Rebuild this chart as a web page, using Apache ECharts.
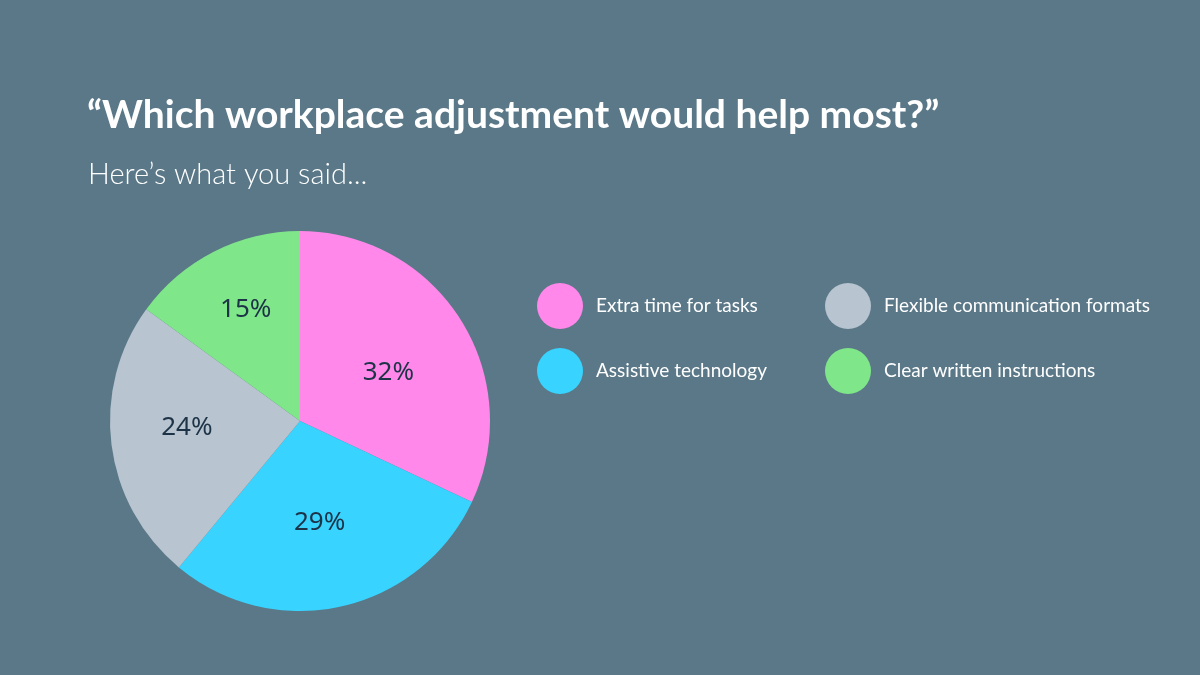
<!DOCTYPE html>
<html>
<head>
<meta charset="utf-8">
<style>
  html, body { margin: 0; padding: 0; background: #5a7888; }
  #main { width: 1200px; height: 675px; }
</style>
<script src="https://cdn.jsdelivr.net/npm/echarts@6/dist/echarts.min.js"></script>
</head>
<body>
<div id="main"></div>
<script>
// survey answers, share of respondents (%)
var categories = ['Extra time for tasks', 'Assistive technology', 'Flexible communication formats', 'Clear written instructions'];
var shares = [32, 29, 24, 15];
var colors = ['#ff88ea', '#38d4ff', '#b8c4cf', '#80e68a'];
var legendLeft = ['Extra time for tasks', 'Assistive technology'];
var legendRight = ['Flexible communication formats', 'Clear written instructions'];

var chart = echarts.init(document.getElementById('main'));

var pieData = categories.map(function (name, i) {
  return { name: name, value: shares[i], itemStyle: { color: colors[i] } };
});

// small nudges so the % labels sit where the original put them
var labelNudge = [[-7, 12], [-5, -9], [-1, -8], [-3, -11]];

var legendCommon = {
  orient: 'vertical',
  top: 278,
  icon: 'circle',
  itemWidth: 46,
  itemHeight: 46,
  itemGap: 19,
  selectedMode: false,
  textStyle: {
    color: '#ffffff',
    fontFamily: 'Lato',
    fontSize: 19,
    padding: [0, 0, 0, 8]
  }
};

chart.setOption({
  backgroundColor: '#5a7888',
  title: [
    {
      text: '\u201cWhich workplace adjustment would help most?\u201d',
      left: 82,
      top: 91,
      textStyle: { color: '#ffffff', fontFamily: 'Lato', fontWeight: 'bold', fontSize: 39 }
    },
    {
      text: 'Here\u2019s what you said...',
      left: 83,
      top: 155,
      textStyle: { color: '#ffffff', fontFamily: 'Lato', fontWeight: 300, fontSize: 29 }
    }
  ],
  legend: [
    Object.assign({ left: 532, data: legendLeft }, legendCommon),
    Object.assign({ left: 820, data: legendRight }, legendCommon)
  ],
  series: [
    {
      type: 'pie',
      center: [300, 421],
      radius: 190,
      startAngle: 90,
      clockwise: true,
      silent: true,
      label: { show: false },
      labelLine: { show: false },
      data: pieData
    },
    {
      // label-only ring so the percentages sit a bit further out
      type: 'pie',
      center: [300, 421],
      radius: 220,
      startAngle: 90,
      clockwise: true,
      silent: true,
      legendHoverLink: false,
      itemStyle: { color: 'rgba(0,0,0,0)' },
      label: {
        show: true,
        position: 'inside',
        formatter: '{c}%',
        color: '#1d3347',
        fontFamily: 'Noto Sans',
        fontSize: 26
      },
      labelLine: { show: false },
      data: categories.map(function (name, i) {
        return { name: name + ' ', value: shares[i], label: { offset: labelNudge[i] } };
      })
    }
  ]
});
</script>
</body>
</html>
